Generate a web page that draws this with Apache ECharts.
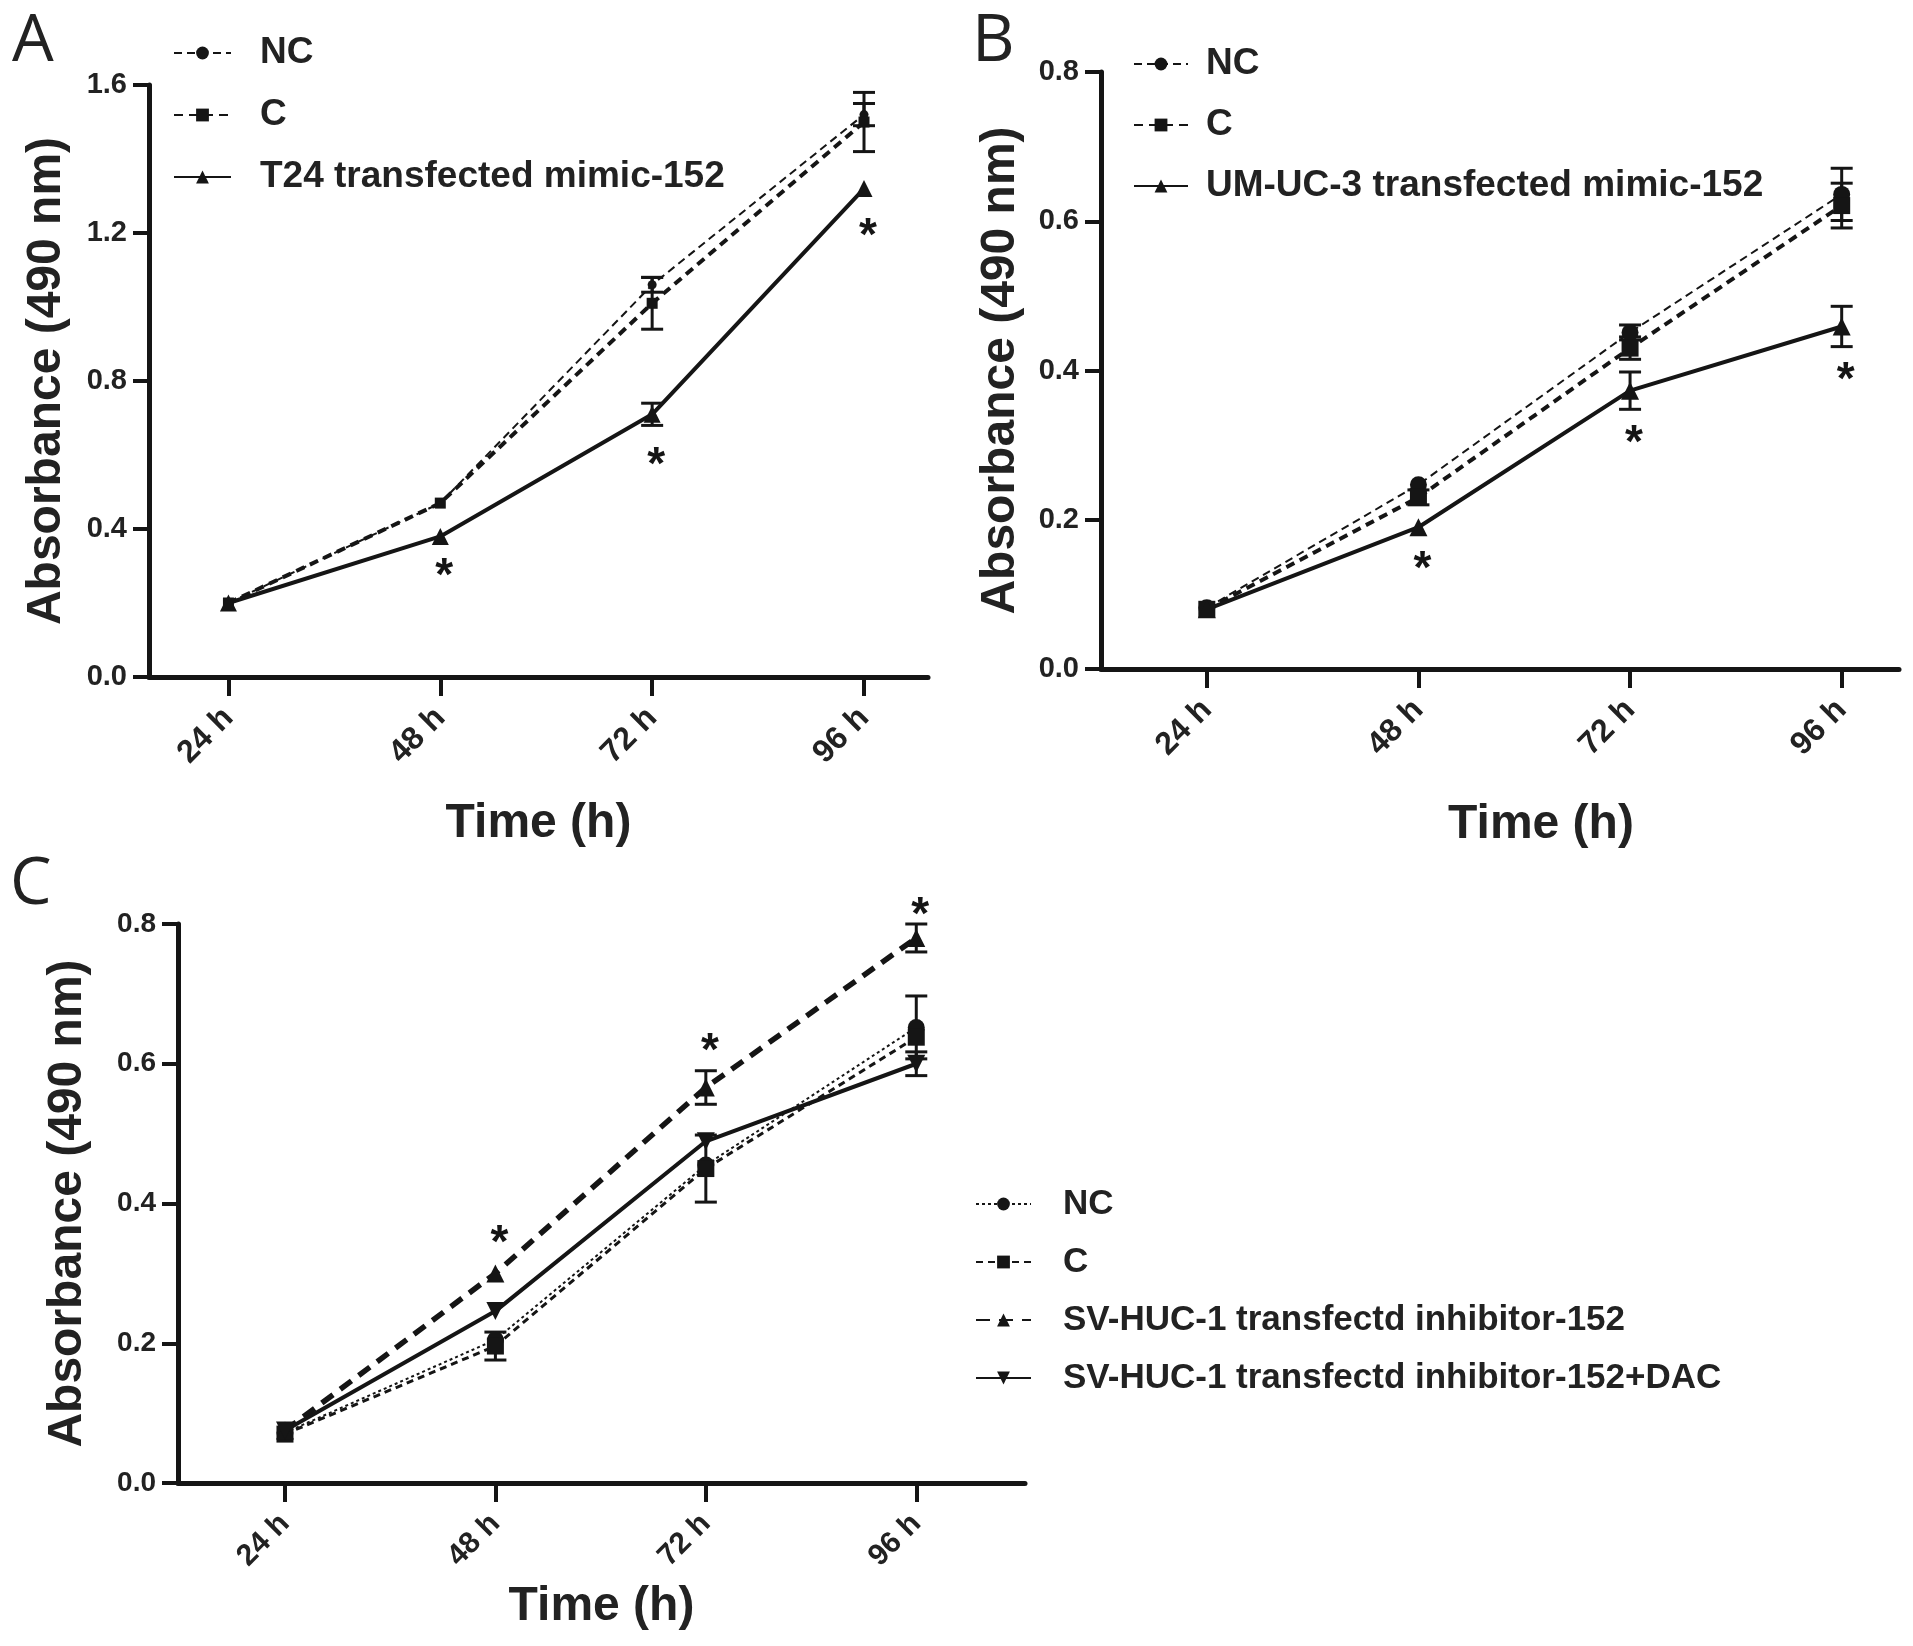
<!DOCTYPE html>
<html>
<head>
<meta charset="utf-8">
<script src="https://cdn.jsdelivr.net/npm/echarts@6/dist/echarts.min.js"></script>
<style>
html,body{margin:0;padding:0;background:#fff;}
#chart{width:1913px;height:1646px;}
</style>
</head>
<body>
<div id="chart"></div>
<script>
// ---------- data ----------
const hours = [24, 48, 72, 96];
const timeLabels = ['24 h', '48 h', '72 h', '96 h'];

// Panel A
const A_NC = [0.20, 0.47, 1.06, 1.52];
const A_NC_err = [0, 0, 0.02, 0.03];
const A_C = [0.20, 0.47, 1.01, 1.50];
const A_C_err = [0, 0, 0.07, 0.08];
const A_T24 = [0.20, 0.38, 0.71, 1.32];
const A_T24_err = [0, 0, 0.03, 0];
const A_star = [null, 0.29, 0.59, 1.21];

// Panel B
const B_NC = [0.082, 0.247, 0.451, 0.636];
const B_NC_err = [0, 0, 0.01, 0.035];
const B_C = [0.080, 0.230, 0.430, 0.621];
const B_C_err = [0, 0.01, 0.015, 0.03];
const B_UM = [0.080, 0.190, 0.373, 0.459];
const B_UM_err = [0, 0, 0.025, 0.027];
const B_star = [null, 0.143, 0.312, 0.396];

// Panel C
const C_NC = [0.072, 0.205, 0.455, 0.652];
const C_NC_err = [0, 0, 0, 0.045];
const C_C = [0.070, 0.196, 0.450, 0.638];
const C_C_err = [0, 0.02, 0.048, 0];
const C_Inh = [0.075, 0.300, 0.566, 0.780];
const C_Inh_err = [0, 0, 0.024, 0.02];
const C_DAC = [0.075, 0.246, 0.489, 0.600];
const C_DAC_err = [0, 0, 0, 0.017];
const C_star = [null, 0.353, 0.628, 0.822];

const legendLabels = {
  A_NC: 'NC', A_C: 'C', A_T24: 'T24 transfected mimic-152',
  B_NC: 'NC', B_C: 'C', B_UM: 'UM-UC-3 transfected mimic-152',
  C_NC: 'NC', C_C: 'C', C_Inh: 'SV-HUC-1 transfectd inhibitor-152', C_DAC: 'SV-HUC-1 transfectd inhibitor-152+DAC'
};

// ---------- helpers ----------
const INK = '#151515';
const FONT = '"Liberation Sans", Arial, sans-serif';

function pts(vals) { return hours.map((h, i) => [h, vals[i]]); }
function errPts(vals, errs) { return hours.map((h, i) => [h, vals[i], errs[i]]); }

function xAxisCfg(gi, min, max, fs, gap, namePad) {
  return {
    gridIndex: gi, type: 'value', min: min, max: max,
    name: 'Time (h)', nameLocation: 'middle', nameGap: gap,
    nameTextStyle: { fontSize: 48, fontWeight: 'bold', fontFamily: FONT, color: '#222', padding: namePad || 0 },
    splitLine: { show: false },
    axisLine: { show: true, onZero: false, lineStyle: { color: INK, width: 5 } },
    axisTick: { show: true, customValues: hours, length: 19, lineStyle: { color: INK, width: 4 } },
    axisLabel: {
      show: true, customValues: hours, rotate: 45, margin: 36,
      formatter: v => timeLabels[hours.indexOf(v)],
      fontSize: fs, fontWeight: 'bold', fontFamily: FONT, color: '#222'
    }
  };
}
function yAxisCfg(gi, max, interval, gap, fs) {
  return {
    gridIndex: gi, type: 'value', min: 0, max: max, interval: interval,
    name: 'Absorbance (490 nm)', nameLocation: 'middle', nameGap: gap, nameRotate: 90,
    nameTextStyle: { fontSize: 48, fontWeight: 'bold', fontFamily: FONT, color: '#222' },
    splitLine: { show: false },
    axisLine: { show: true, lineStyle: { color: INK, width: 5 } },
    axisTick: { show: true, length: 16, lineStyle: { color: INK, width: 4 } },
    axisLabel: {
      margin: 22, formatter: v => v.toFixed(1),
      fontSize: fs, fontWeight: 'bold', fontFamily: FONT, color: '#222'
    }
  };
}
function lineSeries(name, gi, vals, symbol, size, width, type, rot) {
  return {
    name: name, type: 'line', xAxisIndex: gi, yAxisIndex: gi,
    data: pts(vals), symbol: symbol, symbolSize: size, symbolRotate: rot || 0,
    showSymbol: true, animation: false, z: 3,
    lineStyle: { color: INK, width: width, type: type },
    itemStyle: { color: INK, borderWidth: 0 },
    emphasis: { disabled: true }
  };
}
function errSeries(gi, vals, errs) {
  return {
    type: 'custom', xAxisIndex: gi, yAxisIndex: gi, animation: false, z: 2,
    data: errPts(vals, errs), silent: true,
    renderItem: function (params, api) {
      const x = api.value(0), y = api.value(1), e = api.value(2);
      if (!e) return null;
      const t = api.coord([x, y + e]), b = api.coord([x, y - e]);
      const w = 11;
      const st = { stroke: INK, lineWidth: 3 };
      return {
        type: 'group', children: [
          { type: 'line', shape: { x1: t[0], y1: t[1], x2: b[0], y2: b[1] }, style: st },
          { type: 'line', shape: { x1: t[0] - w, y1: t[1], x2: t[0] + w, y2: t[1] }, style: st },
          { type: 'line', shape: { x1: b[0] - w, y1: b[1], x2: b[0] + w, y2: b[1] }, style: st }
        ]
      };
    }
  };
}
function starSeries(gi, vals) {
  const data = hours.map((h, i) => [h, vals[i]]).filter(d => d[1] != null);
  return {
    type: 'custom', xAxisIndex: gi, yAxisIndex: gi, animation: false, z: 4,
    data: data, silent: true,
    renderItem: function (params, api) {
      const p = api.coord([api.value(0), api.value(1)]);
      return {
        type: 'text', x: p[0] + 4, y: p[1] + 8,
        style: { text: '*', font: 'bold 46px ' + FONT, fill: INK, align: 'center', verticalAlign: 'middle' }
      };
    }
  };
}
function legendCfg(left, top, names, iw, fs, gap, pad) {
  return {
    left: left, top: top, orient: 'vertical', selectedMode: false,
    itemWidth: iw, itemHeight: 16, itemGap: gap,
    data: names, formatter: n => legendLabels[n],
    textStyle: { fontSize: fs, fontWeight: 'bold', fontFamily: FONT, color: '#222', lineHeight: 38, padding: [0, 0, 0, pad] }
  };
}

const option = {
  backgroundColor: '#fff',
  animation: false,
  grid: [
    { left: 149, top: 85, width: 779, height: 592 },
    { left: 1101, top: 72, width: 798, height: 597 },
    { left: 178, top: 924, width: 847, height: 559 }
  ],
  xAxis: [
    xAxisCfg(0, 15, 103.25, 32, 123),
    xAxisCfg(1, 12, 102.5, 32, 132, [0, 0, 0, 82]),
    xAxisCfg(2, 11.8, 108.4, 30, 100)
  ],
  yAxis: [
    yAxisCfg(0, 1.6, 0.4, 78, 29),
    yAxisCfg(1, 0.8, 0.2, 76, 29),
    yAxisCfg(2, 0.8, 0.2, 86, 28)
  ],
  legend: [
    legendCfg(168, 29, ['A_NC', 'A_C', 'A_T24'], 57, 37, 24, 24),
    legendCfg(1128, 40, ['B_NC', 'B_C', 'B_UM'], 54, 37, 23, 13),
    legendCfg(970, 1180, ['C_NC', 'C_C', 'C_Inh', 'C_DAC'], 55, 35, 20, 27)
  ],
  graphic: [
    { type: 'text', left: 12, top: 9, style: { text: 'A', font: '66px "Open Sans", sans-serif', fill: '#222' } },
    { type: 'text', left: 972, top: 9, style: { text: 'B', font: '66px "Open Sans", sans-serif', fill: '#222' } },
    { type: 'text', left: 10, top: 852, style: { text: 'C', font: '66px "Open Sans", sans-serif', fill: '#222' } }
  ],
  series: [
    // Panel A
    errSeries(0, A_NC, A_NC_err),
    errSeries(0, A_C, A_C_err),
    errSeries(0, A_T24, A_T24_err),
    lineSeries('A_NC', 0, A_NC, 'circle', 9, 2, [8, 5]),
    lineSeries('A_C', 0, A_C, 'rect', 11, 4, [9, 6]),
    lineSeries('A_T24', 0, A_T24, 'triangle', 17, 4, 'solid'),
    starSeries(0, A_star),
    // Panel B
    errSeries(1, B_NC, B_NC_err),
    errSeries(1, B_C, B_C_err),
    errSeries(1, B_UM, B_UM_err),
    lineSeries('B_NC', 1, B_NC, 'circle', 17, 2, [8, 5]),
    lineSeries('B_C', 1, B_C, 'rect', 17, 4, [9, 6]),
    lineSeries('B_UM', 1, B_UM, 'triangle', 18, 4, 'solid'),
    starSeries(1, B_star),
    // Panel C
    errSeries(2, C_NC, C_NC_err),
    errSeries(2, C_C, C_C_err),
    errSeries(2, C_Inh, C_Inh_err),
    errSeries(2, C_DAC, C_DAC_err),
    lineSeries('C_NC', 2, C_NC, 'circle', 17, 2, [3, 3]),
    lineSeries('C_C', 2, C_C, 'rect', 17, 3, [7, 5]),
    lineSeries('C_Inh', 2, C_Inh, 'triangle', 18, 5.5, [14, 9]),
    lineSeries('C_DAC', 2, C_DAC, 'triangle', 18, 4, 'solid', 180),
    starSeries(2, C_star)
  ]
};

const chart = echarts.init(document.getElementById('chart'), null, { renderer: 'canvas' });
chart.setOption(option);
</script>
</body>
</html>
